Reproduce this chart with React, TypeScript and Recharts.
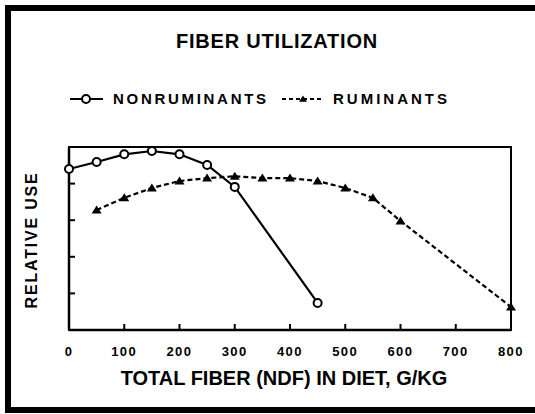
import React from "react";
import { Line, LineChart, ReferenceArea, XAxis, YAxis } from "recharts";

// values, relative use on a 0-5 axis
const NONRUM_X = [0, 50, 100, 150, 200, 250, 300, 450];
const NONRUM_Y = [4.4, 4.59, 4.8, 4.89, 4.8, 4.51, 3.91, 0.74];
const RUM_X = [50, 100, 150, 200, 250, 300, 350, 400, 450, 500, 550, 600, 800];
const RUM_Y = [3.28, 3.61, 3.88, 4.07, 4.15, 4.2, 4.15, 4.15, 4.07, 3.88, 3.61, 2.98, 0.63];
const X_TICKS = [0, 100, 200, 300, 400, 500, 600, 700, 800];
const Y_TICKS = [1, 2, 3, 4];

const INK = "#000";
const FONT = '"Liberation Sans", Arial, Helvetica, sans-serif';

const nonrum = NONRUM_X.map((x, i) => ({ x, y: NONRUM_Y[i] }));
const rum = RUM_X.map((x, i) => ({ x, y: RUM_Y[i] }));

function Triangle({ cx, cy, size = 5 }: any) {
  if (cx == null || cy == null) return null;
  return (
    <polygon
      points={`${cx - size},${cy + size * 0.7} ${cx + size},${cy + size * 0.7} ${cx},${cy - size * 0.9}`}
      fill={INK}
    />
  );
}

function OpenCircle({ cx, cy }: any) {
  if (cx == null || cy == null) return null;
  return <circle cx={cx} cy={cy} r={4} fill="#fff" stroke={INK} strokeWidth={2} />;
}

// y axis has tick marks but no numbers
const NoLabel = () => <g />;

// title + legend, drawn above the plot
function Header() {
  const txt = { fontFamily: FONT, fontWeight: 700, fill: INK } as const;
  return (
    <svg width={535} height={115} style={{ position: "absolute", left: 0, top: 0 }}>
      <text x={277} y={48} textAnchor="middle" fontSize={20} letterSpacing={0.8} {...txt}>
        FIBER UTILIZATION
      </text>
      <line x1={70} x2={103} y1={99} y2={99} stroke={INK} strokeWidth={2} />
      <OpenCircle cx={86} cy={99} />
      <text x={113} y={104} fontSize={15} letterSpacing={2.7} {...txt}>
        NONRUMINANTS
      </text>
      <line x1={282} x2={324} y1={99} y2={99} stroke={INK} strokeWidth={2} strokeDasharray="4 3" />
      <Triangle cx={303} cy={99} size={4} />
      <text x={333} y={104} fontSize={15} letterSpacing={3} {...txt}>
        RUMINANTS
      </text>
    </svg>
  );
}

export default function App() {
  return (
    <div style={{ position: "absolute", left: 0, top: 0, width: 535, height: 414, background: "#fff", overflow: "hidden" }}>
      <div
        style={{
          position: "absolute",
          left: 5,
          top: 5,
          width: 560,
          height: 408,
          boxSizing: "border-box",
          borderLeft: `6px solid ${INK}`,
          borderTop: `6px solid ${INK}`,
          borderBottom: `6px solid ${INK}`,
        }}
      />
      <Header />
      <LineChart
        width={535}
        height={414}
        margin={{ top: 147, right: 24, bottom: 54, left: 59 }}
        style={{ position: "absolute", left: 0, top: 0 }}
      >
        <XAxis
          dataKey="x"
          type="number"
          domain={[0, 800]}
          ticks={X_TICKS}
          allowDuplicatedCategory={false}
          height={30}
          tickSize={-6}
          tickMargin={23}
          axisLine={{ stroke: INK, strokeWidth: 2.5 }}
          tickLine={{ stroke: INK, strokeWidth: 2 }}
          tick={{ fill: INK, fontSize: 13, fontWeight: 700, fontFamily: FONT, letterSpacing: 1.5 }}
          label={{
            content: () => (
              <text x={284} y={385} textAnchor="middle" fontSize={20} fontWeight={700} fontFamily={FONT} fill={INK}>
                TOTAL FIBER (NDF) IN DIET, G/KG
              </text>
            ),
          }}
        />
        <YAxis
          type="number"
          domain={[0, 5]}
          ticks={Y_TICKS}
          width={10}
          tick={NoLabel}
          tickSize={-6}
          axisLine={{ stroke: INK, strokeWidth: 2.5 }}
          tickLine={{ stroke: INK, strokeWidth: 2 }}
          label={{
            content: () => (
              <text
                x={37}
                y={240}
                transform="rotate(-90 37 240)"
                textAnchor="middle"
                fontSize={16}
                fontWeight={700}
                letterSpacing={1.8}
                fontFamily={FONT}
                fill={INK}
              >
                RELATIVE USE
              </text>
            ),
          }}
        />
        <ReferenceArea x1={0} x2={800} y1={0} y2={5} fill="none" stroke={INK} strokeWidth={2} />
        <Line
          data={nonrum}
          dataKey="y"
          name="NONRUMINANTS"
          type="linear"
          stroke={INK}
          strokeWidth={2.2}
          dot={<OpenCircle />}
          activeDot={false}
          isAnimationActive={false}
        />
        <Line
          data={rum}
          dataKey="y"
          name="RUMINANTS"
          type="linear"
          stroke={INK}
          strokeWidth={2.2}
          strokeDasharray="5 3"
          dot={<Triangle />}
          activeDot={false}
          isAnimationActive={false}
        />
      </LineChart>
    </div>
  );
}
